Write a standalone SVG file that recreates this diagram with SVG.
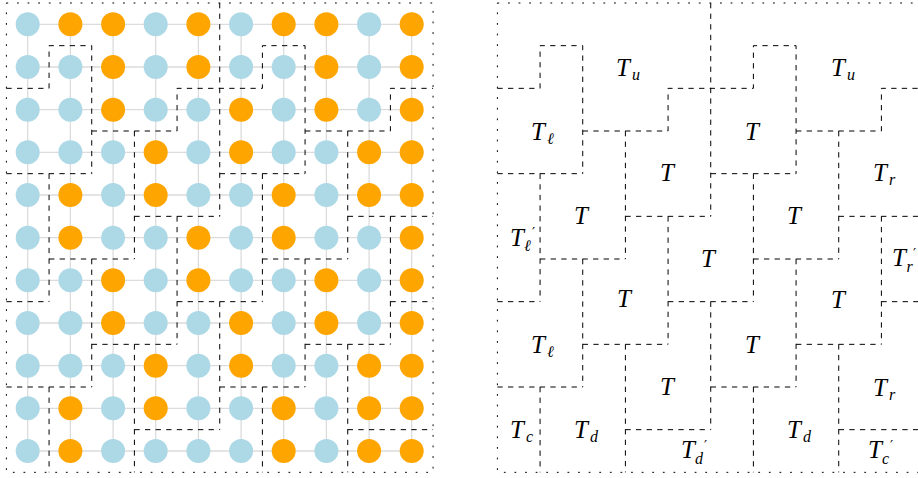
<svg xmlns="http://www.w3.org/2000/svg" xmlns:xlink="http://www.w3.org/1999/xlink" width="918" height="478" viewBox="0 0 918 478">
<style>
.b{fill:#add8e6}
.o{fill:#ffa500}
.grid{fill:none;stroke:#dcdcdc;stroke-width:1.3}
.dash{fill:none;stroke:#000;stroke-width:1;stroke-dasharray:5.3 5.3}
.dot{fill:none;stroke:#000;stroke-width:1;stroke-dasharray:1.8 8.8}
.lab{font-family:"Liberation Serif","DejaVu Serif",serif;font-style:italic;font-size:25px;fill:#000}
.sub{font-size:16px}
.pr{font-family:"DejaVu Sans",sans-serif;font-style:normal;font-size:14px}
</style>
<defs>
<g id="tiling">
<path class="dash" d="M0 85.33H42.67V42.67H85.33V170.67 M85.33 128H170.67V85.33H256V42.67H298.67V170.67 M298.67 128H384V85.33H426.67 M213.33 0V213.33 M128 128V256 M341.33 128V256 M0 170.67H85.33 M213.33 170.67H298.67 M42.67 170.67V298.67 M256 170.67V298.67 M0 298.67H42.67 M42.67 256H128 M256 256H341.33 M128 213.33H213.33 M341.33 213.33H426.67 M170.67 213.33V341.33 M384 213.33V341.33 M170.67 298.67H256 M384 298.67H426.67 M85.33 256V384 M298.67 256V384 M213.33 298.67V426.67 M0 384H85.33 M213.33 384H298.67 M85.33 341.33H170.67 M298.67 341.33H384 M128 341.33V469.33 M341.33 341.33V469.33 M42.67 384V469.33 M256 384V469.33 M128 426.67H213.33 M341.33 426.67H426.67"/>
<rect class="dot" x="0" y="0" width="426.67" height="469.33"/>
</g>
</defs>
<g id="left-grid">
<path class="grid" d="M27.7 24.3H411.7M27.7 67H411.7M27.7 109.7H411.7M27.7 152.3H411.7M27.7 195H411.7M27.7 237.7H411.7M27.7 280.3H411.7M27.7 323H411.7M27.7 365.7H411.7M27.7 408.3H411.7M27.7 451H411.7 M27.7 24.3V451M70.4 24.3V451M113.1 24.3V451M155.7 24.3V451M198.4 24.3V451M241.1 24.3V451M283.7 24.3V451M326.4 24.3V451M369.1 24.3V451M411.7 24.3V451"/>
</g>
<g id="left-vertices">
<circle class="b" cx="27.7" cy="24.3" r="12"/><circle class="o" cx="70.4" cy="24.3" r="12"/><circle class="o" cx="113.1" cy="24.3" r="12"/><circle class="b" cx="155.7" cy="24.3" r="12"/><circle class="o" cx="198.4" cy="24.3" r="12"/><circle class="b" cx="241.1" cy="24.3" r="12"/><circle class="o" cx="283.7" cy="24.3" r="12"/><circle class="o" cx="326.4" cy="24.3" r="12"/><circle class="b" cx="369.1" cy="24.3" r="12"/><circle class="o" cx="411.7" cy="24.3" r="12"/>
<circle class="b" cx="27.7" cy="67" r="12"/><circle class="b" cx="70.4" cy="67" r="12"/><circle class="o" cx="113.1" cy="67" r="12"/><circle class="b" cx="155.7" cy="67" r="12"/><circle class="o" cx="198.4" cy="67" r="12"/><circle class="b" cx="241.1" cy="67" r="12"/><circle class="b" cx="283.7" cy="67" r="12"/><circle class="o" cx="326.4" cy="67" r="12"/><circle class="b" cx="369.1" cy="67" r="12"/><circle class="o" cx="411.7" cy="67" r="12"/>
<circle class="b" cx="27.7" cy="109.7" r="12"/><circle class="b" cx="70.4" cy="109.7" r="12"/><circle class="o" cx="113.1" cy="109.7" r="12"/><circle class="b" cx="155.7" cy="109.7" r="12"/><circle class="b" cx="198.4" cy="109.7" r="12"/><circle class="o" cx="241.1" cy="109.7" r="12"/><circle class="b" cx="283.7" cy="109.7" r="12"/><circle class="o" cx="326.4" cy="109.7" r="12"/><circle class="b" cx="369.1" cy="109.7" r="12"/><circle class="o" cx="411.7" cy="109.7" r="12"/>
<circle class="b" cx="27.7" cy="152.3" r="12"/><circle class="b" cx="70.4" cy="152.3" r="12"/><circle class="b" cx="113.1" cy="152.3" r="12"/><circle class="o" cx="155.7" cy="152.3" r="12"/><circle class="b" cx="198.4" cy="152.3" r="12"/><circle class="o" cx="241.1" cy="152.3" r="12"/><circle class="b" cx="283.7" cy="152.3" r="12"/><circle class="b" cx="326.4" cy="152.3" r="12"/><circle class="o" cx="369.1" cy="152.3" r="12"/><circle class="o" cx="411.7" cy="152.3" r="12"/>
<circle class="b" cx="27.7" cy="195" r="12"/><circle class="o" cx="70.4" cy="195" r="12"/><circle class="b" cx="113.1" cy="195" r="12"/><circle class="o" cx="155.7" cy="195" r="12"/><circle class="b" cx="198.4" cy="195" r="12"/><circle class="b" cx="241.1" cy="195" r="12"/><circle class="o" cx="283.7" cy="195" r="12"/><circle class="b" cx="326.4" cy="195" r="12"/><circle class="o" cx="369.1" cy="195" r="12"/><circle class="o" cx="411.7" cy="195" r="12"/>
<circle class="b" cx="27.7" cy="237.7" r="12"/><circle class="o" cx="70.4" cy="237.7" r="12"/><circle class="b" cx="113.1" cy="237.7" r="12"/><circle class="b" cx="155.7" cy="237.7" r="12"/><circle class="o" cx="198.4" cy="237.7" r="12"/><circle class="b" cx="241.1" cy="237.7" r="12"/><circle class="o" cx="283.7" cy="237.7" r="12"/><circle class="b" cx="326.4" cy="237.7" r="12"/><circle class="b" cx="369.1" cy="237.7" r="12"/><circle class="o" cx="411.7" cy="237.7" r="12"/>
<circle class="b" cx="27.7" cy="280.3" r="12"/><circle class="b" cx="70.4" cy="280.3" r="12"/><circle class="o" cx="113.1" cy="280.3" r="12"/><circle class="b" cx="155.7" cy="280.3" r="12"/><circle class="o" cx="198.4" cy="280.3" r="12"/><circle class="b" cx="241.1" cy="280.3" r="12"/><circle class="b" cx="283.7" cy="280.3" r="12"/><circle class="o" cx="326.4" cy="280.3" r="12"/><circle class="b" cx="369.1" cy="280.3" r="12"/><circle class="o" cx="411.7" cy="280.3" r="12"/>
<circle class="b" cx="27.7" cy="323" r="12"/><circle class="b" cx="70.4" cy="323" r="12"/><circle class="o" cx="113.1" cy="323" r="12"/><circle class="b" cx="155.7" cy="323" r="12"/><circle class="b" cx="198.4" cy="323" r="12"/><circle class="o" cx="241.1" cy="323" r="12"/><circle class="b" cx="283.7" cy="323" r="12"/><circle class="o" cx="326.4" cy="323" r="12"/><circle class="b" cx="369.1" cy="323" r="12"/><circle class="o" cx="411.7" cy="323" r="12"/>
<circle class="b" cx="27.7" cy="365.7" r="12"/><circle class="b" cx="70.4" cy="365.7" r="12"/><circle class="b" cx="113.1" cy="365.7" r="12"/><circle class="o" cx="155.7" cy="365.7" r="12"/><circle class="b" cx="198.4" cy="365.7" r="12"/><circle class="o" cx="241.1" cy="365.7" r="12"/><circle class="b" cx="283.7" cy="365.7" r="12"/><circle class="b" cx="326.4" cy="365.7" r="12"/><circle class="o" cx="369.1" cy="365.7" r="12"/><circle class="o" cx="411.7" cy="365.7" r="12"/>
<circle class="b" cx="27.7" cy="408.3" r="12"/><circle class="o" cx="70.4" cy="408.3" r="12"/><circle class="b" cx="113.1" cy="408.3" r="12"/><circle class="o" cx="155.7" cy="408.3" r="12"/><circle class="b" cx="198.4" cy="408.3" r="12"/><circle class="b" cx="241.1" cy="408.3" r="12"/><circle class="o" cx="283.7" cy="408.3" r="12"/><circle class="b" cx="326.4" cy="408.3" r="12"/><circle class="o" cx="369.1" cy="408.3" r="12"/><circle class="o" cx="411.7" cy="408.3" r="12"/>
<circle class="b" cx="27.7" cy="451" r="12"/><circle class="o" cx="70.4" cy="451" r="12"/><circle class="b" cx="113.1" cy="451" r="12"/><circle class="b" cx="155.7" cy="451" r="12"/><circle class="b" cx="198.4" cy="451" r="12"/><circle class="b" cx="241.1" cy="451" r="12"/><circle class="o" cx="283.7" cy="451" r="12"/><circle class="b" cx="326.4" cy="451" r="12"/><circle class="o" cx="369.1" cy="451" r="12"/><circle class="o" cx="411.7" cy="451" r="12"/>
</g>
<g id="connectors">
<use xlink:href="#tiling" href="#tiling" transform="translate(6.4,3)"/>
<use xlink:href="#tiling" href="#tiling" transform="translate(497.4,3)"/>
</g>
<g id="labels">
<text class="lab" x="616" y="76">T<tspan class="sub" x="632" y="80">u</tspan></text>
<text class="lab" x="831" y="76">T<tspan class="sub" x="847" y="80">u</tspan></text>
<text class="lab" x="531" y="139.5">T<tspan class="sub" x="547" y="143.5">ℓ</tspan></text>
<text class="lab" x="745" y="139.5">T</text>
<text class="lab" x="660" y="181">T</text>
<text class="lab" x="873" y="181">T<tspan class="sub" x="889" y="185">r</tspan></text>
<text class="lab" x="574" y="223.5">T</text>
<text class="lab" x="787" y="224">T</text>
<text class="lab" x="510" y="245.5">T<tspan class="sub" x="524" y="251">ℓ</tspan><tspan class="pr" x="532" y="237">′</tspan></text>
<text class="lab" x="701" y="266.5">T</text>
<text class="lab" x="892" y="266">T<tspan class="sub" x="906.5" y="272">r</tspan><tspan class="pr" x="913" y="257.5">′</tspan></text>
<text class="lab" x="617" y="306.5">T</text>
<text class="lab" x="831" y="308">T</text>
<text class="lab" x="531" y="352.5">T<tspan class="sub" x="547" y="356.5">ℓ</tspan></text>
<text class="lab" x="745" y="352.5">T</text>
<text class="lab" x="660" y="395">T</text>
<text class="lab" x="873" y="396">T<tspan class="sub" x="889" y="400">r</tspan></text>
<text class="lab" x="510" y="437.5">T<tspan class="sub" x="526" y="441.5">c</tspan></text>
<text class="lab" x="574" y="437.5">T<tspan class="sub" x="590" y="441.5">d</tspan></text>
<text class="lab" x="787" y="438">T<tspan class="sub" x="803" y="442">d</tspan></text>
<text class="lab" x="681" y="458">T<tspan class="sub" x="695" y="464">d</tspan><tspan class="pr" x="704" y="449.5">′</tspan></text>
<text class="lab" x="868" y="458">T<tspan class="sub" x="882" y="464">c</tspan><tspan class="pr" x="890" y="449.5">′</tspan></text>
</g>
</svg>
